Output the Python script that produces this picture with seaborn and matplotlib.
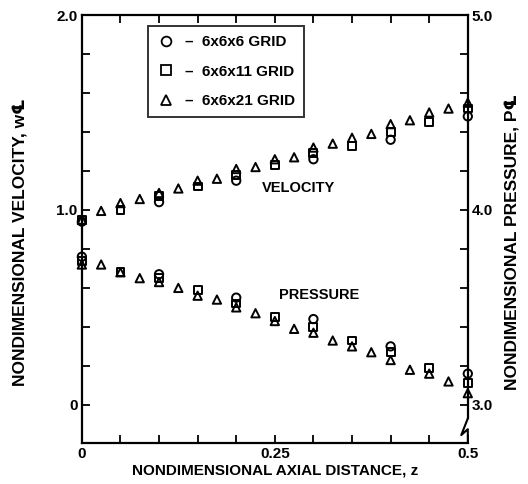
import matplotlib
matplotlib.use("Agg")
import matplotlib.pyplot as plt
from matplotlib.lines import Line2D
import seaborn as sns
import numpy as np
import pandas as pd

sns.set_theme(style="white")
plt.rcParams['font.family'] = ['Liberation Sans', 'DejaVu Sans']
plt.rcParams['font.weight'] = 'bold'
plt.rcParams['text.color'] = 'black'
plt.rcParams['axes.labelcolor'] = 'black'
plt.rcParams['xtick.color'] = 'black'
plt.rcParams['ytick.color'] = 'black'

# z positions
z6 = [0.0, 0.1, 0.2, 0.3, 0.4, 0.5]
z11 = [0.0, 0.05, 0.1, 0.15, 0.2, 0.25, 0.3, 0.35, 0.4, 0.45, 0.5]
z21 = [0.0, 0.025, 0.05, 0.075, 0.1, 0.125, 0.15, 0.175, 0.2, 0.225, 0.25,
       0.275, 0.3, 0.325, 0.35, 0.375, 0.4, 0.425, 0.45, 0.475, 0.5]

# velocity (left axis)
vel6 = [0.94, 1.04, 1.15, 1.26, 1.36, 1.48]
vel11 = [0.95, 1.00, 1.07, 1.12, 1.18, 1.23, 1.29, 1.33, 1.40, 1.45, 1.52]
vel21 = [0.95, 0.995, 1.035, 1.056, 1.087, 1.11, 1.15, 1.16, 1.21, 1.22, 1.26,
         1.27, 1.32, 1.34, 1.37, 1.39, 1.44, 1.46, 1.50, 1.52, 1.55]

# pressure (right axis)
pres6 = [3.76, 3.67, 3.55, 3.44, 3.30, 3.16]
pres11 = [3.74, 3.68, 3.65, 3.59, 3.52, 3.45, 3.40, 3.33, 3.27, 3.19, 3.11]
pres21 = [3.72, 3.72, 3.68, 3.65, 3.63, 3.60, 3.56, 3.54, 3.50, 3.47, 3.43,
          3.39, 3.37, 3.33, 3.30, 3.27, 3.23, 3.18, 3.16, 3.12, 3.06]

grid_labels = ["6x6x6 GRID", "6x6x11 GRID", "6x6x21 GRID"]
markers = ["o", "s", "^"]

fig = plt.figure(figsize=(5.28, 4.84), dpi=100)
ax = fig.add_axes([0.155, 0.085, 0.731, 0.884])
ax2 = ax.twinx()

series = [(z6, vel6, pres6), (z11, vel11, pres11), (z21, vel21, pres21)]
msize = {"o": 36, "s": 32, "^": 36}
for (zz, vv, pp), mk in zip(series, markers):
    sns.scatterplot(x=zz, y=vv, ax=ax, marker=mk, s=msize[mk], facecolors='none',
                    edgecolors='black', linewidth=1.4, zorder=3, clip_on=False)
    sns.scatterplot(x=zz, y=pp, ax=ax2, marker=mk, s=msize[mk], facecolors='none',
                    edgecolors='black', linewidth=1.4, zorder=3, clip_on=False)

ax.set_xlim(0, 0.5)
ax.set_ylim(-0.195, 2.0)
ax2.set_ylim(2.805, 5.0)

yt = np.round(np.arange(0, 2.01, 0.2), 2)
ax.set_yticks(yt)
ax.set_yticklabels(["0" if v == 0 else ("1.0" if v == 1 else ("2.0" if v == 2 else "")) for v in yt])
yt2 = np.round(np.arange(3.0, 5.01, 0.2), 2)
ax2.set_yticks(yt2)
ax2.set_yticklabels(["3.0" if v == 3 else ("4.0" if v == 4 else ("5.0" if v == 5 else "")) for v in yt2])
xt = np.round(np.arange(0, 0.501, 0.05), 3)
ax.set_xticks(xt)
ax.set_xticklabels(["0" if v == 0 else ("0.25" if v == 0.25 else ("0.5" if v == 0.5 else "")) for v in xt])

for a in (ax, ax2):
    for s in a.spines.values():
        s.set_color('black')
        s.set_linewidth(1.6)
ax.spines['right'].set_visible(False)
for nm in ('left', 'top', 'bottom'):
    ax2.spines[nm].set_visible(False)
ax.tick_params(axis='both', direction='in', length=6, width=1.3, colors='black',
               labelsize=11, top=True, left=True, bottom=True, right=False, pad=3)
ax2.tick_params(axis='y', direction='in', length=6, width=1.3, colors='black',
                labelsize=11, right=True, pad=3)
for lab in ax.get_xticklabels() + ax.get_yticklabels() + ax2.get_yticklabels():
    lab.set_fontweight('bold')

# right spine break
ax2.spines['right'].set_bounds(2.93, 5.0)
ax.plot([0.5, 0.4915, 0.5, 0.5], [-0.07, -0.155, -0.125, -0.195],
        color='black', lw=1.5, clip_on=False, zorder=4)

ax.set_xlabel("NONDIMENSIONAL AXIAL DISTANCE, z", fontsize=11, fontweight='bold',
              labelpad=2, color='black')
ax.set_ylabel("NONDIMENSIONAL VELOCITY, w\u2104", fontsize=12.5, fontweight='bold',
              color='black')
ax.yaxis.set_label_coords(-0.14, 0.47)
ax2.set_ylabel("NONDIMENSIONAL PRESSURE, P\u2104", fontsize=12.5, fontweight='bold',
               color='black', rotation=90)
ax2.yaxis.set_label_coords(1.095, 0.47)

ax.text(0.233, 1.11, "VELOCITY", fontsize=10.5, fontweight='bold', va='center', ha='left')
ax.text(0.256, 0.564, "PRESSURE", fontsize=10.5, fontweight='bold', va='center', ha='left')

handles = [Line2D([], [], marker=m, linestyle='none', markerfacecolor='none',
                  markeredgecolor='black', markeredgewidth=1.3, markersize=7)
           for m in markers]
leg = ax.legend(handles, ["\u2013  " + g for g in grid_labels], loc='upper left',
                bbox_to_anchor=(0.171, 0.974), frameon=True, fancybox=False,
                edgecolor='black', fontsize=11, handletextpad=0.6,
                labelspacing=1.0, borderpad=0.6, handlelength=1.2, borderaxespad=0)
leg.get_frame().set_linewidth(1.4)
for t in leg.get_texts():
    t.set_fontweight('bold')
    t.set_color('black')

fig.savefig("out.png", dpi=100)
